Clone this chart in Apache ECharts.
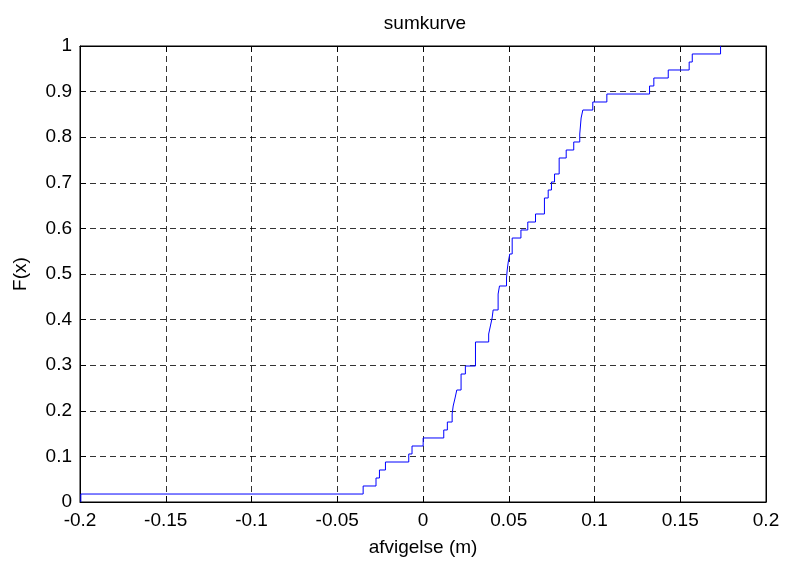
<!DOCTYPE html>
<html>
<head>
<meta charset="utf-8">
<script src="https://cdn.jsdelivr.net/npm/echarts@6/dist/echarts.min.js"></script>
<style>html,body{margin:0;padding:0;background:#fff}#c{width:785px;height:562px}</style>
</head>
<body>
<div id="c"></div>
<script>
// Step positions (x where the cumulative curve jumps) and level reached after each jump
var jumpX = [-0.1995, -0.0349, -0.0274, -0.0254, -0.0219, -0.0083, -0.0064, 0.0001, 0.0121, 0.0142,
  0.0170, 0.0176, 0.0187, 0.0197, 0.0222, 0.0247, 0.0306, 0.0383, 0.0393, 0.0403,
  0.0409, 0.0438, 0.0446, 0.0487, 0.0491, 0.0497, 0.0506, 0.0520, 0.0571, 0.0611,
  0.0656, 0.0708, 0.0730, 0.0749, 0.0767, 0.0794, 0.0835, 0.0879, 0.0914, 0.0922,
  0.0932, 0.0990, 0.1072, 0.1321, 0.1346, 0.1430, 0.1552, 0.1570, 0.1735];
var levelF = [0.0175, 0.0351, 0.0526, 0.0702, 0.0877, 0.1053, 0.1228, 0.1404, 0.1579, 0.1754,
  0.1930, 0.2105, 0.2281, 0.2456, 0.2807, 0.2982, 0.3509, 0.3684, 0.3860, 0.4035,
  0.4211, 0.4561, 0.4737, 0.4912, 0.5088, 0.5263, 0.5439, 0.5789, 0.5965, 0.6140,
  0.6316, 0.6667, 0.6842, 0.7018, 0.7193, 0.7544, 0.7719, 0.7895, 0.8070, 0.8421,
  0.8596, 0.8772, 0.8947, 0.9123, 0.9298, 0.9474, 0.9649, 0.9825, 1.0];
var startF = 0;
var titleText = 'sumkurve';
var xName = 'afvigelse (m)';
var yName = 'F(x)';

var lineData = [[jumpX[0], startF]];
for (var i = 0; i < jumpX.length; i++) lineData.push([jumpX[i], levelF[i]]);

var font = 'Liberation Sans, Arial, Helvetica, sans-serif';
var fs = 19;
var gridLine = {show: true, lineStyle: {color: '#000', type: [6, 4], width: 1, opacity: 0.8}};
var tick = {show: true, inside: true, length: 6, lineStyle: {color: '#000'}};
var axLine = {show: true, onZero: false, lineStyle: {color: '#000', width: 1}};

var chart = echarts.init(document.getElementById('c'), null, {renderer: 'canvas'});
chart.setOption({
  animation: false,
  backgroundColor: '#fff',
  title: {text: titleText, left: 420, top: 9, textAlign: 'center',
    textStyle: {fontFamily: font, fontSize: fs, fontWeight: 'normal', color: '#000'}},
  grid: {left: 80, right: 19, top: 46, bottom: 58, show: true, borderColor: '#000', borderWidth: 1},
  xAxis: [{
    type: 'value', min: -0.2, max: 0.2, interval: 0.05, position: 'bottom',
    name: xName, nameLocation: 'middle', nameGap: 36,
    nameTextStyle: {fontFamily: font, fontSize: fs, color: '#000'},
    axisLine: axLine, axisTick: tick, splitLine: gridLine,
    axisLabel: {fontFamily: font, fontSize: fs, color: '#000', margin: 9}
  }, {
    type: 'value', min: -0.2, max: 0.2, interval: 0.05, position: 'top',
    axisLine: axLine, axisTick: tick, splitLine: {show: false}, axisLabel: {show: false}
  }],
  yAxis: [{
    type: 'value', min: 0, max: 1, interval: 0.1, position: 'left',
    name: yName, nameLocation: 'middle', nameGap: 50, nameRotate: 90,
    nameTextStyle: {fontFamily: font, fontSize: fs, color: '#000'},
    axisLine: axLine, axisTick: tick, splitLine: gridLine,
    axisLabel: {fontFamily: font, fontSize: fs, color: '#000', margin: 8}
  }, {
    type: 'value', min: 0, max: 1, interval: 0.1, position: 'right',
    axisLine: axLine, axisTick: tick, splitLine: {show: false}, axisLabel: {show: false}
  }],
  series: [{
    type: 'line', step: 'end', data: lineData, showSymbol: false, symbol: 'none',
    xAxisIndex: 0, yAxisIndex: 0,
    lineStyle: {color: '#0000ff', width: 1}, clip: true
  }]
});
</script>
</body>
</html>
